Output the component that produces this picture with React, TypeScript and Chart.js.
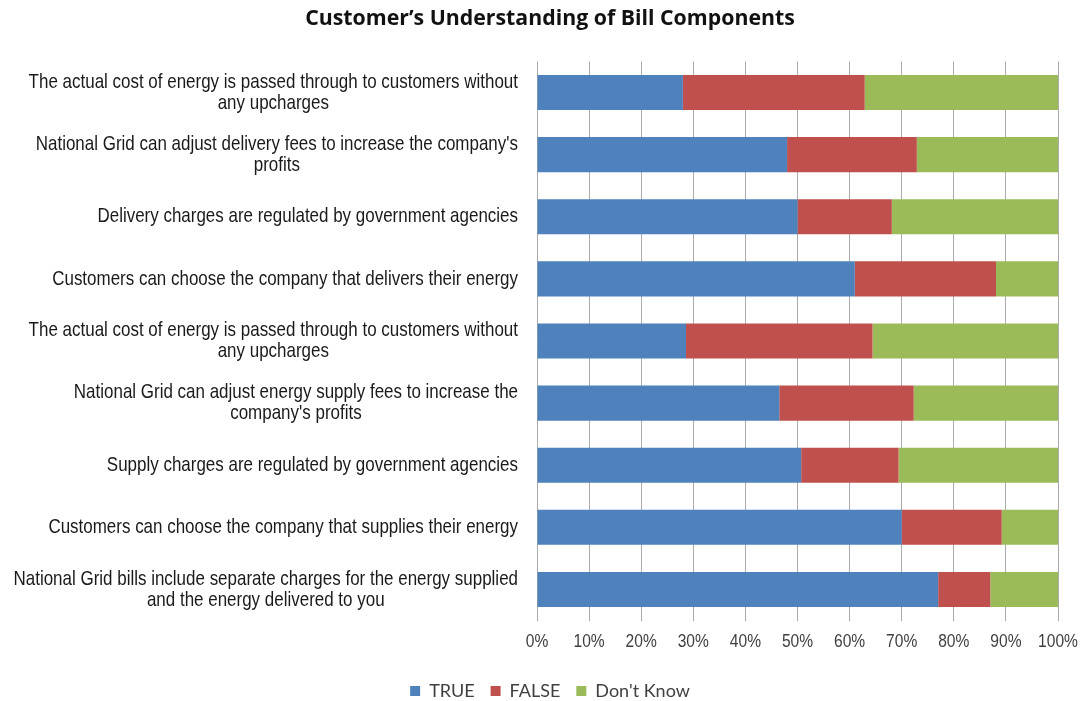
import React, { useEffect, useRef } from 'react';
import { Chart, registerables } from 'chart.js';

Chart.register(...registerables);

const chartTitle = 'Customer\u2019s Understanding of Bill Components';

const categories: string[][] = [
  ['The actual cost of energy is passed through to customers without', 'any upcharges'],
  ["National Grid can adjust delivery fees to increase the company's", 'profits'],
  ['Delivery charges are regulated by government agencies'],
  ['Customers can choose the company that delivers their energy'],
  ['The actual cost of energy is passed through to customers without', 'any upcharges'],
  ['National Grid can adjust energy supply fees to increase the', "company's profits"],
  ['Supply charges are regulated by government agencies'],
  ['Customers can choose the company that supplies their energy'],
  ['National Grid bills include separate charges for the energy supplied', 'and the energy delivered to you'],
];

const seriesNames = ['TRUE', 'FALSE', "Don't Know"];
const trueValues = [28, 48, 50, 61, 28.6, 46.5, 50.7, 70, 77];
const falseValues = [34.9, 24.9, 18.1, 27.1, 35.8, 25.8, 18.7, 19.2, 10];
const dontKnowValues = [37.1, 27.1, 31.9, 11.9, 35.6, 27.7, 30.6, 10.8, 13];
const seriesColors = ['#4F81BD', '#C0504D', '#9BBB59'];

const xMin = 0;
const xMax = 100;
const xStep = 10;

function hasFont(name: string): boolean {
  const c = document.createElement('canvas').getContext('2d');
  if (!c) return false;
  const s = 'The actual cost of energy 0123456789';
  c.font = '20px monospace';
  const a = c.measureText(s).width;
  c.font = `20px "${name}", monospace`;
  const b = c.measureText(s).width;
  return Math.abs(a - b) > 0.5;
}

export default function App() {
  const ref = useRef<HTMLCanvasElement | null>(null);

  useEffect(() => {
    if (!ref.current) return;
    const narrow = hasFont('Liberation Sans Narrow');
    const narrowFamily = narrow ? "'Liberation Sans Narrow', 'Arial Narrow', sans-serif" : "'Liberation Sans', Arial, sans-serif";
    const scaleX = narrow ? 1 : 0.82;
    const labelSize = 20.7;

    const drawScaled = (ctx: CanvasRenderingContext2D, text: string, x: number, y: number) => {
      ctx.save();
      ctx.translate(x, y);
      ctx.scale(scaleX, 1);
      ctx.fillText(text, 0, 0);
      ctx.restore();
    };

    const axisLabelPlugin = {
      id: 'axisLabels',
      afterDraw(chart: any) {
        const ctx = chart.ctx as CanvasRenderingContext2D;
        const yScale = chart.scales.y;
        const xScale = chart.scales.x;
        const right = chart.chartArea.left - 19;
        const lh = 21;
        ctx.save();
        ctx.font = `${labelSize}px ${narrowFamily}`;
        ctx.fillStyle = '#1a1a1a';
        ctx.textAlign = 'center';
        ctx.textBaseline = 'middle';
        categories.forEach((lines, i) => {
          const yc = yScale.getPixelForTick(i);
          const widths = lines.map((l) => ctx.measureText(l).width * scaleX);
          const maxW = Math.max(...widths);
          const cx = right - maxW / 2;
          const y0 = yc - ((lines.length - 1) * lh) / 2;
          lines.forEach((l, j) => drawScaled(ctx, l, cx, y0 + j * lh));
        });
        ctx.font = `19px ${narrowFamily}`;
        ctx.fillStyle = '#404040';
        const ty = chart.chartArea.bottom + 21.5;
        xScale.ticks.forEach((t: any, i: number) => {
          drawScaled(ctx, `${t.value}%`, xScale.getPixelForTick(i), ty);
        });
        ctx.restore();
      },
    };

    const chart = new Chart(ref.current, {
      type: 'bar',
      data: {
        labels: categories.map((c) => c.join(' ')),
        datasets: [
          { label: seriesNames[0], data: trueValues, backgroundColor: seriesColors[0] },
          { label: seriesNames[1], data: falseValues, backgroundColor: seriesColors[1] },
          { label: seriesNames[2], data: dontKnowValues, backgroundColor: seriesColors[2] },
        ],
      },
      options: {
        indexAxis: 'y',
        animation: false,
        responsive: true,
        maintainAspectRatio: false,
        layout: { padding: { left: 42, right: 24, top: 0, bottom: -9 } },
        datasets: { bar: { categoryPercentage: 0.565, barPercentage: 1 } },
        scales: {
          x: {
            stacked: true,
            min: xMin,
            max: xMax,
            ticks: { stepSize: xStep, display: false },
            grid: { color: '#ababab', lineWidth: 1, drawTicks: false },
            border: { display: false },
            afterFit: (s: any) => { s.height = 45.5; },
          },
          y: {
            stacked: true,
            ticks: { display: false },
            grid: { display: false },
            border: { display: false },
            afterFit: (s: any) => { s.width = 495; },
          },
        },
        plugins: {
          title: {
            display: true,
            text: chartTitle,
            color: '#111',
            font: { family: "'Open Sans', sans-serif", size: 21.3, weight: 'bold' },
            padding: { top: 6, bottom: 29.9 },
          },
          legend: {
            position: 'bottom',
            labels: {
              boxWidth: 10,
              boxHeight: 10,
              padding: 16,
              color: '#404040',
              font: { family: "Lato, 'Open Sans', sans-serif", size: 18 },
            },
          },
          tooltip: { enabled: false },
        },
      },
      plugins: [axisLabelPlugin],
    });
    return () => chart.destroy();
  }, []);

  return (
    <div style={{ position: 'fixed', left: 0, top: 0, width: 1082, height: 701, background: '#fff' }}>
      <canvas ref={ref} />
    </div>
  );
}
